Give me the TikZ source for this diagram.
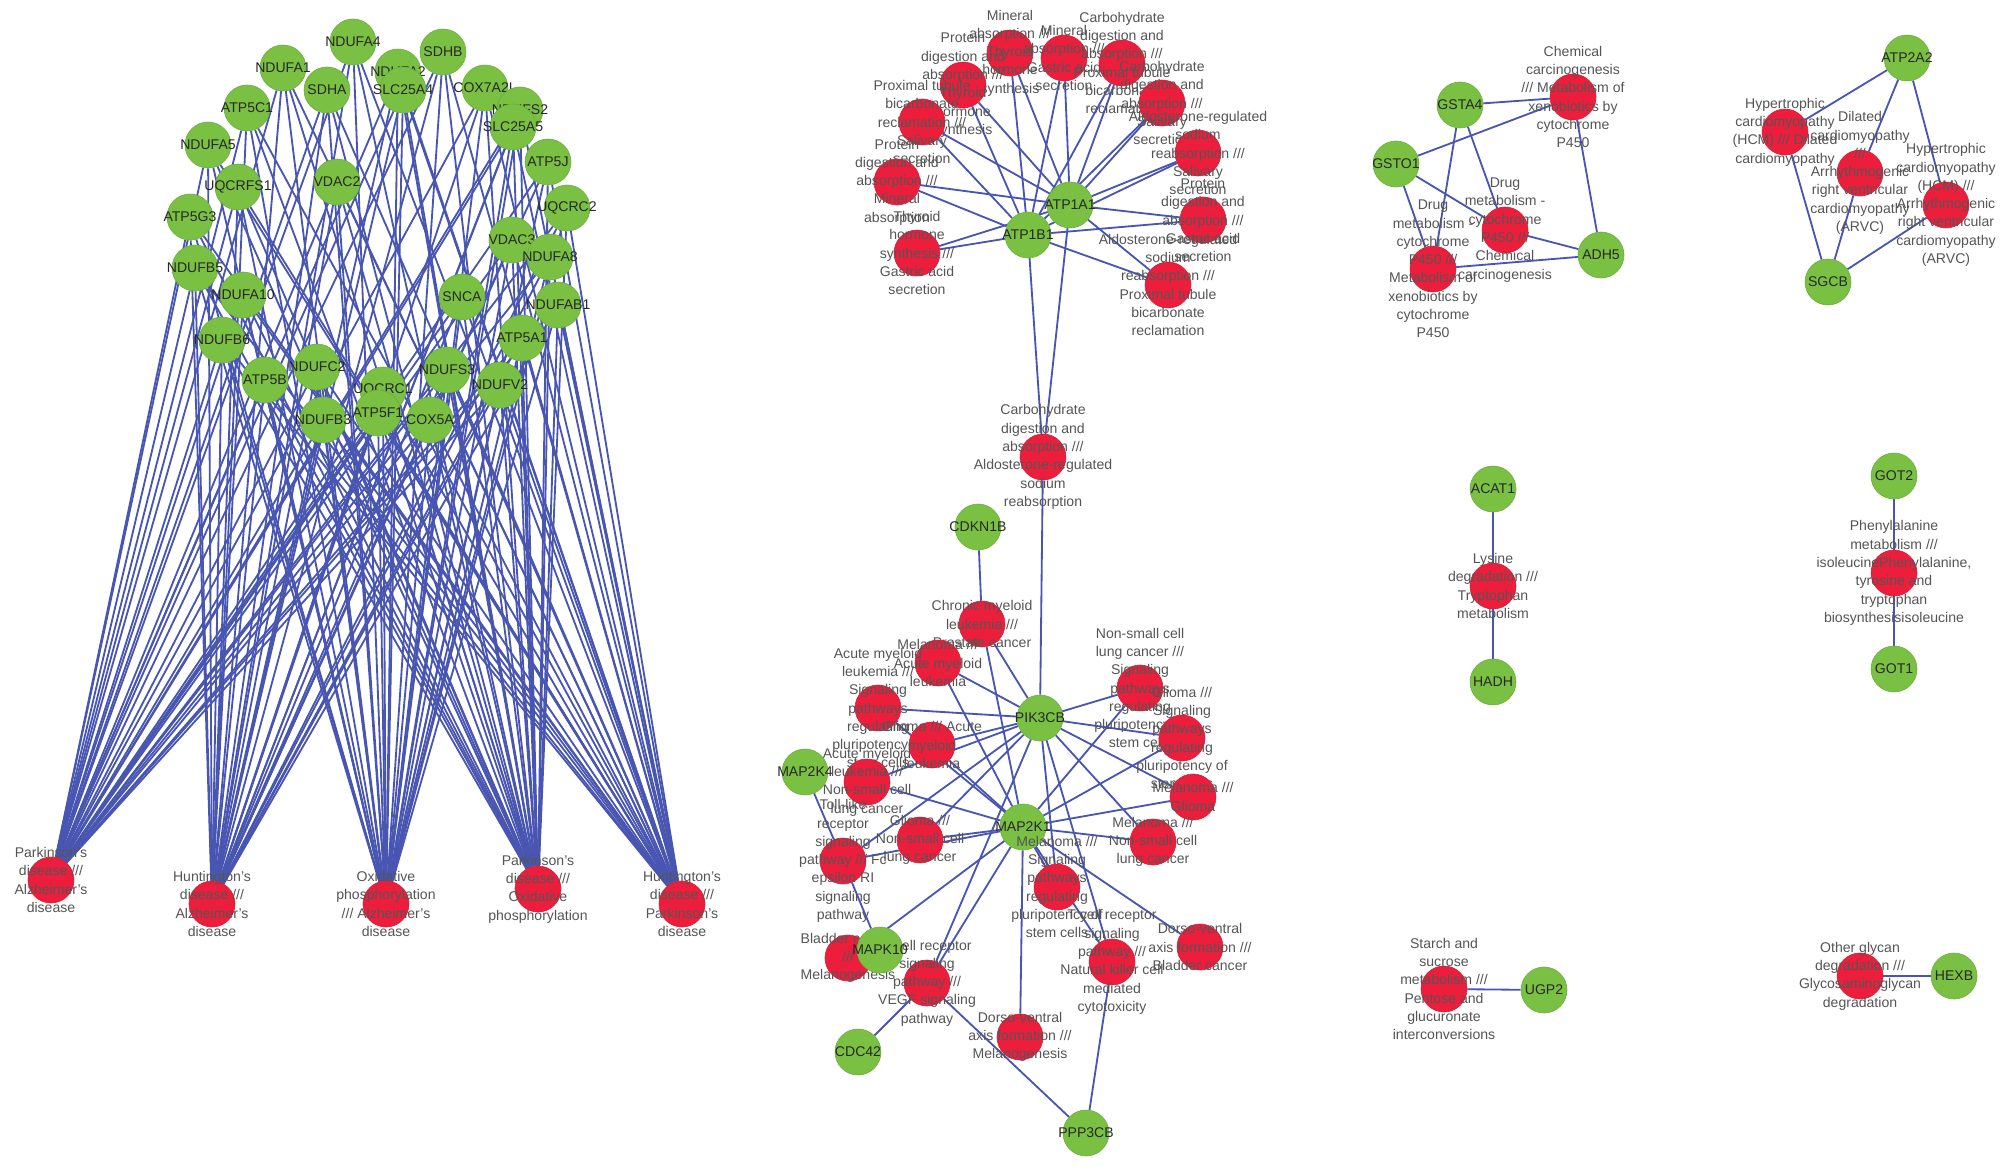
\documentclass[tikz,border=0pt]{standalone}
\usepackage{fontspec}
\setmainfont{Liberation Sans}
\usetikzlibrary{backgrounds}
\definecolor{genefill}{RGB}{122,192,66}
\definecolor{genedraw}{RGB}{108,172,62}
\definecolor{pwayfill}{RGB}{236,30,60}
\definecolor{pwaydraw}{RGB}{214,26,52}
\definecolor{linkcol}{RGB}{72,86,178}
\definecolor{genetext}{RGB}{40,40,40}
\definecolor{pwaytext}{RGB}{85,85,85}
\tikzset{
  gene/.style={circle, fill=genefill, draw=genedraw, line width=0.4pt, minimum size=1.15cm, inner sep=0pt},
  pway/.style={circle, fill=pwayfill, draw=pwaydraw, line width=0.4pt, minimum size=1.15cm, inner sep=0pt},
  glab/.style={font=\fontsize{10}{13}\selectfont, text=genetext, inner sep=0pt},
  plab/.style={font=\fontsize{10}{13}\selectfont, text=pwaytext, align=center, inner sep=0pt},
  link/.style={draw=linkcol, line width=1.3pt}
}
\begin{document}
\begin{tikzpicture}[x=0.025cm, y=-0.025cm]
            \useasboundingbox (0,0) rectangle (2008,1171);

            \node[pway, label={[plab]center:Parkinson's\\disease ///\\Alzheimer's\\disease}] (pdad) at (51,880){};
            \node[pway, label={[plab]center:Huntington's\\disease ///\\Alzheimer's\\disease}] (hdad) at (212,904){};
            \node[pway, label={[plab]center:Oxidative\\phosphorylation\\/// Alzheimer's\\disease}] (oxad) at (386,904){};
            \node[pway, label={[plab]center:Parkinson's\\disease ///\\Oxidative\\phosphorylation}] (pdox) at (538,889){};
            \node[pway, label={[plab]center:Huntington's\\disease ///\\Parkinson's\\disease}] (hdpd) at (682,904){};

            \node[gene, label={[glab]center:NDUFA4}] (NDUFA4) at (353,42){};
            \node[gene, label={[glab]center:SDHB}] (SDHB) at (443,52){};
            \node[gene, label={[glab]center:NDUFA1}] (NDUFA1) at (283,68){};
            \node[gene, label={[glab]center:NDUFA2}] (NDUFA2) at (398,72){};
            \node[gene, label={[glab]center:SDHA}] (SDHA) at (327,90){};
            \node[gene, label={[glab]center:SLC25A4}] (SLC25A4) at (403,90){};
            \node[gene, label={[glab]center:COX7A2L}] (COX7A2L) at (485,88){};
            \node[gene, label={[glab]center:ATP5C1}] (ATP5C1) at (247,108){};
            \node[gene, label={[glab]center:NDUFS2}] (NDUFS2) at (520,110){};
            \node[gene, label={[glab]center:SLC25A5}] (SLC25A5) at (513,127){};
            \node[gene, label={[glab]center:NDUFA5}] (NDUFA5) at (208,145){};
            \node[gene, label={[glab]center:ATP5J}] (ATP5J) at (548,162){};
            \node[gene, label={[glab]center:VDAC2}] (VDAC2) at (337,182){};
            \node[gene, label={[glab]center:UQCRFS1}] (UQCRFS1) at (238,187){};
            \node[gene, label={[glab]center:UQCRC2}] (UQCRC2) at (567,208){};
            \node[gene, label={[glab]center:ATP5G3}] (ATP5G3) at (190,217){};
            \node[gene, label={[glab]center:VDAC3}] (VDAC3) at (512,240){};
            \node[gene, label={[glab]center:NDUFA8}] (NDUFA8) at (550,257){};
            \node[gene, label={[glab]center:NDUFB5}] (NDUFB5) at (195,268){};
            \node[gene, label={[glab]center:NDUFA10}] (NDUFA10) at (243,295){};
            \node[gene, label={[glab]center:SNCA}] (SNCA) at (462,297){};
            \node[gene, label={[glab]center:NDUFAB1}] (NDUFAB1) at (558,305){};
            \node[gene, label={[glab]center:ATP5A1}] (ATP5A1) at (522,338){};
            \node[gene, label={[glab]center:NDUFB6}] (NDUFB6) at (222,340){};
            \node[gene, label={[glab]center:NDUFC2}] (NDUFC2) at (317,367){};
            \node[gene, label={[glab]center:NDUFS3}] (NDUFS3) at (447,370){};
            \node[gene, label={[glab]center:ATP5B}] (ATP5B) at (265,380){};
            \node[gene, label={[glab]center:NDUFV2}] (NDUFV2) at (500,385){};
            \node[gene, label={[glab]center:UQCRC1}] (UQCRC1) at (383,390){};
            \node[gene, label={[glab]center:NDUFB3}] (NDUFB3) at (323,420){};
            \node[gene, label={[glab]center:ATP5F1}] (ATP5F1) at (378,413){};
            \node[gene, label={[glab]center:COX5A}] (COX5A) at (430,420){};

            \node[pway, label={[plab]center:Mineral\\absorption ///\\Thyroid\\hormone\\synthesis}] (minthy) at (1010,53){};
            \node[pway, label={[plab]center:Mineral\\absorption ///\\Gastric acid\\secretion}] (mingas) at (1064,58){};
            \node[pway, label={[plab]center:Carbohydrate\\digestion and\\absorption ///\\Proximal tubule\\bicarbonate\\reclamation}] (carbprox) at (1122,63){};
            \node[pway, label={[plab]center:Protein\\digestion and\\absorption ///\\Thyroid\\hormone\\synthesis}] (protthy) at (963,85){};
            \node[pway, label={[plab]center:Carbohydrate\\digestion and\\absorption ///\\Salivary\\secretion}] (carbsal) at (1162,103){};
            \node[pway, label={[plab]center:Proximal tubule\\bicarbonate\\reclamation ///\\Salivary\\secretion}] (proxsal) at (922,122){};
            \node[pway, label={[plab]center:Aldosterone-regulated\\sodium\\reabsorption ///\\Salivary\\secretion}] (aldsal) at (1198,153){};
            \node[pway, label={[plab]center:Protein\\digestion and\\absorption ///\\Mineral\\absorption}] (protmin) at (897,182){};
            \node[pway, label={[plab]center:Protein\\digestion and\\absorption ///\\Gastric acid\\secretion}] (protgas) at (1203,220){};
            \node[pway, label={[plab]center:Thyroid\\hormone\\synthesis ///\\Gastric acid\\secretion}] (thygas) at (917,253){};
            \node[pway, label={[plab]center:Aldosterone-regulated\\sodium\\reabsorption ///\\Proximal tubule\\bicarbonate\\reclamation}] (aldprox) at (1168,285){};
            \node[gene, label={[glab]center:ATP1A1}] (ATP1A1) at (1070,205){};
            \node[gene, label={[glab]center:ATP1B1}] (ATP1B1) at (1028,235){};

            \node[pway, label={[plab]center:Carbohydrate\\digestion and\\absorption ///\\Aldosterone-regulated\\sodium\\reabsorption}] (carbald) at (1043,457){};

            \node[pway, label={[plab]center:Chronic myeloid\\leukemia ///\\Prostate cancer}] (cml) at (982,624){};
            \node[pway, label={[plab]center:Melanoma ///\\Acute myeloid\\leukemia}] (melaml) at (938,663){};
            \node[pway, label={[plab]center:Non-small cell\\lung cancer ///\\Signaling\\pathways\\regulating\\pluripotency of\\stem cells}] (nscsig) at (1140,688){};
            \node[pway, label={[plab]center:Acute myeloid\\leukemia ///\\Signaling\\pathways\\regulating\\pluripotency of\\stem cells}] (amlsig) at (878,708){};
            \node[pway, label={[plab]center:Glioma ///\\Signaling\\pathways\\regulating\\pluripotency of\\stem cells}] (glisig) at (1182,738){};
            \node[pway, label={[plab]center:Glioma /// Acute\\myeloid\\leukemia}] (gliaml) at (932,745){};
            \node[pway, label={[plab]center:Acute myeloid\\leukemia ///\\Non-small cell\\lung cancer}] (amlnsc) at (867,782){};
            \node[pway, label={[plab]center:Melanoma ///\\Glioma}] (melgli) at (1193,797){};
            \node[pway, label={[plab]center:Glioma ///\\Non-small cell\\lung cancer}] (glinsc) at (920,840){};
            \node[pway, label={[plab]center:Melanoma ///\\Non-small cell\\lung cancer}] (melnsc) at (1153,842){};
            \node[pway, label={[plab]center:Toll-like\\receptor\\signaling\\pathway /// Fc\\epsilon RI\\signaling\\pathway}] (toll) at (843,861){};
            \node[pway, label={[plab]center:Dorso-ventral\\axis formation ///\\Bladder cancer}] (dvbla) at (1200,947){};
            \node[pway, label={[plab]center:T cell receptor\\signaling\\pathway ///\\Natural killer cell\\mediated\\cytotoxicity}] (tcnk) at (1112,962){};
            \node[pway, label={[plab]center:Bladder cancer\\///\\Melanogenesis}] (blamel) at (848,958){};
            \node[pway, label={[plab]center:T cell receptor\\signaling\\pathway ///\\VEGF signaling\\pathway}] (tcvegf) at (927,983){};
            \node[pway, label={[plab]center:Dorso-ventral\\axis formation ///\\Melanogenesis}] (dvmel) at (1020,1037){};

            \node[gene, label={[glab]center:CDKN1B}] (CDKN1B) at (978,527){};
            \node[gene, label={[glab]center:PIK3CB}] (PIK3CB) at (1040,718){};
            \node[gene, label={[glab]center:MAP2K4}] (MAP2K4) at (805,772){};
            \node[gene, label={[glab]center:MAP2K1}] (MAP2K1) at (1023,827){};
            \node[pway, label={[plab]center:Melanoma ///\\Signaling\\pathways\\regulating\\pluripotency of\\stem cells}] (melsig) at (1057,887){};
            \node[gene, label={[glab]center:MAPK10}] (MAPK10) at (880,950){};
            \node[gene, label={[glab]center:CDC42}] (CDC42) at (858,1052){};
            \node[gene, label={[glab]center:PPP3CB}] (PPP3CB) at (1086,1133){};

            \node[gene, label={[glab]center:GSTA4}] (GSTA4) at (1460,105){};
            \node[gene, label={[glab]center:GSTO1}] (GSTO1) at (1396,164){};
            \node[pway, label={[plab]center:Chemical\\carcinogenesis\\/// Metabolism of\\xenobiotics by\\cytochrome\\P450}] (chemmet) at (1573,97){};
            \node[pway, label={[plab]center:Drug\\metabolism -\\cytochrome\\P450 ///\\Chemical\\carcinogenesis}] (drugchem) at (1505,230){};
            \node[pway, label={[plab]center:Drug\\metabolism -\\cytochrome\\P450 ///\\Metabolism of\\xenobiotics by\\cytochrome\\P450}] (drugmet) at (1433,269){};
            \node[gene, label={[glab]center:ADH5}] (ADH5) at (1601,255){};

            \node[gene, label={[glab]center:ATP2A2}] (ATP2A2) at (1907,58){};
            \node[pway, label={[plab]center:Hypertrophic\\cardiomyopathy\\(HCM) /// Dilated\\cardiomyopathy}] (hcmdil) at (1785,132){};
            \node[pway, label={[plab]center:Dilated\\cardiomyopathy\\///\\Arrhythmogenic\\right ventricular\\cardiomyopathy\\(ARVC)}] (dilarvc) at (1860,173){};
            \node[pway, label={[plab]center:Hypertrophic\\cardiomyopathy\\(HCM) ///\\Arrhythmogenic\\right ventricular\\cardiomyopathy\\(ARVC)}] (hcmarvc) at (1946,205){};
            \node[gene, label={[glab]center:SGCB}] (SGCB) at (1828,282){};

            \node[gene, label={[glab]center:ACAT1}] (ACAT1) at (1493,489){};
            \node[pway, label={[plab]center:Lysine\\degradation ///\\Tryptophan\\metabolism}] (lystry) at (1493,586){};
            \node[gene, label={[glab]center:HADH}] (HADH) at (1493,682){};

            \node[gene, label={[glab]center:GOT2}] (GOT2) at (1894,476){};
            \node[pway, label={[plab]center:Phenylalanine\\metabolism ///\\isoleucinePhenylalanine,\\tyrosine and\\tryptophan\\biosynthesisisoleucine}] (phe) at (1894,573){};
            \node[gene, label={[glab]center:GOT1}] (GOT1) at (1894,669){};

            \node[pway, label={[plab]center:Starch and\\sucrose\\metabolism ///\\Pentose and\\glucuronate\\interconversions}] (starch) at (1444,989){};
            \node[gene, label={[glab]center:UGP2}] (UGP2) at (1544,990){};
            \node[pway, label={[plab]center:Other glycan\\degradation ///\\Glycosaminoglycan\\degradation}] (glycan) at (1860,976){};
            \node[gene, label={[glab]center:HEXB}] (HEXB) at (1954,976){};

            \begin{scope}[on background layer]
            \fill[white] (0,0) rectangle (2008,1171);
            \foreach \g in {NDUFA4,SDHB,NDUFA1,NDUFA2,SDHA,SLC25A4,COX7A2L,ATP5C1,NDUFS2,SLC25A5,NDUFA5,ATP5J,VDAC2,UQCRFS1,ATP5G3,UQCRC2,VDAC3,NDUFB5,NDUFA8,NDUFA10,SNCA,NDUFAB1,NDUFB6,ATP5A1,NDUFC2,UQCRC1,ATP5B,NDUFS3,NDUFV2,NDUFB3,ATP5F1,COX5A}
              \foreach \r in {pdad,hdad,oxad,pdox,hdpd}
                \path (\g) edge[link] (\r);
            \foreach \r in {minthy,mingas,carbprox,protthy,carbsal,proxsal,aldsal,protmin,protgas,thygas,aldprox,carbald}
              \path (ATP1A1) edge[link] (\r) (ATP1B1) edge[link] (\r);
            \path (carbald) edge[link] (PIK3CB);
            \path (CDKN1B) edge[link] (cml);
            \foreach \r in {cml,melaml,amlsig,gliaml,amlnsc,glinsc,toll,tcvegf,nscsig,glisig,melgli,melnsc,melsig,tcnk}
              \path (PIK3CB) edge[link] (\r) (MAP2K1) edge[link] (\r);
            \path (MAP2K1) edge[link] (blamel);
            \path (MAP2K1) edge[link] (dvmel);
            \path (MAP2K1) edge[link] (dvbla);
            \path (MAP2K4) edge[link] (toll);
            \path (MAPK10) edge[link] (toll);
            \path (CDC42) edge[link] (tcvegf);
            \path (PPP3CB) edge[link] (tcvegf);
            \path (PPP3CB) edge[link] (tcnk);
            \foreach \g in {GSTA4,GSTO1,ADH5}
              \path (\g) edge[link] (chemmet) (\g) edge[link] (drugchem) (\g) edge[link] (drugmet);
            \foreach \g in {ATP2A2,SGCB}
              \path (\g) edge[link] (hcmdil) (\g) edge[link] (dilarvc) (\g) edge[link] (hcmarvc);
            \path (ACAT1) edge[link] (lystry);
            \path (HADH) edge[link] (lystry);
            \path (GOT2) edge[link] (phe);
            \path (GOT1) edge[link] (phe);
            \path (starch) edge[link] (UGP2);
            \path (glycan) edge[link] (HEXB);
            \end{scope}
\end{tikzpicture}
\end{document}
